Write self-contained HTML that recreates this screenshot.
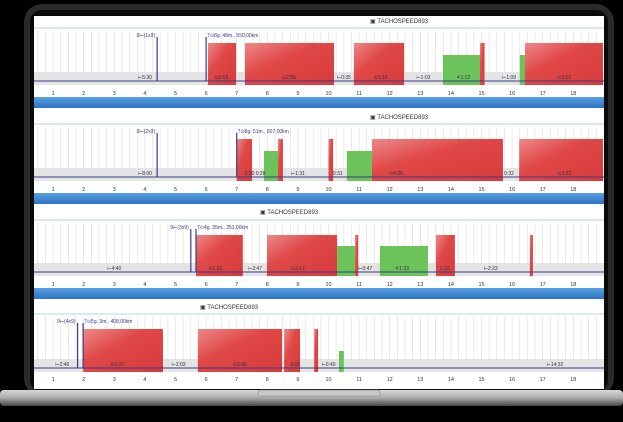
<!DOCTYPE html>
<html><head><meta charset="utf-8"><style>
html,body{margin:0;padding:0;background:#000;width:623px;height:422px;overflow:hidden}
svg{display:block}
text{font-family:"Liberation Sans",sans-serif}
</style></head><body>
<svg id="s" width="623" height="422" viewBox="0 0 623 422">
<defs>
<linearGradient id="silver" x1="0" y1="0" x2="0" y2="1"><stop offset="0" stop-color="#d8d8d8"/><stop offset="0.5" stop-color="#a9a9a9"/><stop offset="1" stop-color="#444"/></linearGradient>
<linearGradient id="red" x1="0" y1="0" x2="1" y2="1"><stop offset="0" stop-color="#e88"/><stop offset="0.4" stop-color="#e04848"/><stop offset="1" stop-color="#d83a3a"/></linearGradient>
<linearGradient id="blue" x1="0" y1="0" x2="0" y2="1"><stop offset="0" stop-color="#5aa0e0"/><stop offset="1" stop-color="#2b74c4"/></linearGradient>
</defs>
<rect x="24" y="4" width="590" height="392" rx="18" fill="#2a2a2a"/>
<rect x="30" y="10" width="578" height="382" rx="12" fill="#0a0a0a"/>
<rect x="34" y="16" width="570" height="373" fill="#fff"/>
<g id="charts"></g>
<rect x="0" y="390" width="623" height="16" rx="4" fill="url(#silver)"/>
<rect x="258" y="390" width="122" height="6" rx="2" fill="#c8c8c8" stroke="#888" stroke-width="0.5"/>
</svg>
<script>
const hours=[1,2,3,4,5,6,7,8,9,10,11,12,13,14,15,16,17,18];
// panel bars: [start hour, end hour, type]
const p1Bars=[[6.06,6.98,'r'],[7.27,10.18,'r'],[10.83,12.47,'r'],[13.74,14.95,'g'],[14.95,15.1,'r'],[16.25,16.42,'g'],[16.42,18.97,'r']];
const p2Bars=[[7.0,7.5,'r'],[7.89,8.35,'g'],[8.35,8.51,'r'],[10.0,10.15,'r'],[10.6,11.42,'g'],[11.42,15.7,'r'],[16.23,18.97,'r']];
const p3Bars=[[5.67,7.2,'r'],[7.99,10.28,'r'],[10.28,10.87,'g'],[10.87,10.97,'r'],[11.68,13.25,'g'],[13.51,14.13,'r'],[16.58,16.68,'r']];
const p4Bars=[[1.98,4.59,'r'],[5.73,8.48,'r'],[8.55,9.07,'r'],[9.53,9.66,'r'],[10.34,10.5,'g']];
const p1Labels=[[4.0,'⊢5:30'],[6.5,'⊙0:55'],[8.7,'⊙2:56'],[10.5,'⊢0:35'],[11.7,'⊙1:10'],[13.1,'⊢1:03'],[14.4,'⚘1:12'],[15.9,'⊢1:09'],[17.7,'⊙3:03']];
const p2Labels=[[4.0,'⊢8:00'],[7.6,'0:20 0:28'],[9.0,'⊢1:31'],[10.3,'0:31'],[12.2,'⊙4:38'],[15.9,'0:32'],[17.7,'⊙3:33']];
const p3Labels=[[3.0,'⊢4:40'],[6.3,'⊙1:32'],[7.6,'⊢2:47'],[9.0,'⊙2:17'],[11.2,'⊢0:47'],[12.4,'⚘1:23'],[13.8,'2:33'],[15.3,'⊢2:23']];
const p4Labels=[[1.3,'⊢2:46'],[3.1,'⊙2:37'],[5.1,'⊢2:03'],[7.1,'⊙2:45'],[8.9,'3:33'],[10.0,'⊢0:40'],[17.4,'⊢14:32']];
const panels=[
 {bars:p1Bars,labels:p1Labels,title:21,top:43,base:85,axis:93,blue:97,gt:55,mark:[4.4,6.0],markText:['9⊢(1x9)','7⊙8g. 48m., 550,00km']},
 {bars:p2Bars,labels:p2Labels,title:117,top:139,base:181,axis:189,blue:193,gt:151,mark:[4.4,7.0],markText:['9⊢(2x9)','7⊙8g. 51m., 607,00km']},
 {bars:p3Bars,labels:p3Labels,title:212,top:235,base:276,axis:284,blue:288,gt:246,mark:[5.5,5.67],markText:['9⊢(3x9)','7⊙4g. 35m., 253,00km']},
 {bars:p4Bars,labels:p4Labels,title:307,top:329,base:372,axis:379,blue:null,gt:351,mark:[1.8,1.98],markText:['9⊢(4x9)','7⊙5g. 3m., 408,00km']}
];
const titleX=[370,370,260,200];
const NS='http://www.w3.org/2000/svg';
const g=document.getElementById('charts');
function x(h){return 22.5+30.6*h;}
function mk(tag,at,parent){const e=document.createElementNS(NS,tag);for(const k in at)e.setAttribute(k,at[k]);(parent||g).appendChild(e);return e;}
panels.forEach((p,i)=>{
 const pg=mk('g',{});
 
 
 mk('line',{x1:34,x2:604,y1:p.top-15,y2:p.top-15,stroke:'#9cc8d8','stroke-width':0.8},pg);
 const t=mk('text',{x:titleX[i],y:p.title+2,'font-size':6,fill:'#333'},pg);
 t.textContent='▣ TACHOSPEED893';
 
 
 for(let h=0.5;h<19;h+=0.25){mk('line',{x1:x(h),x2:x(h),y1:p.top-12,y2:p.base,stroke:'#ddd','stroke-width':0.6},pg);}
 mk('rect',{x:34,y:p.base-13,width:570,height:13,fill:'#e4e4e4'},pg);
 p.bars.forEach(b=>{
  const r=mk('rect',{x:x(b[0]),y:b[2]==='r'?p.top:p.gt,width:Math.max(1,x(b[1])-x(b[0])),height:p.base-(b[2]==='r'?p.top:p.gt),fill:b[2]==='r'?'url(#red)':'#6cc35a'},pg);
  
  
 });
 mk('line',{x1:34,x2:604,y1:p.base-4,y2:p.base-4,stroke:'#3a3a8c','stroke-width':1},pg);
 mk('line',{x1:x(p.mark[0]),x2:x(p.mark[0]),y1:p.top-6,y2:p.base-4,stroke:'#3a3a8c','stroke-width':1.2},pg);
 mk('line',{x1:x(p.mark[1]),x2:x(p.mark[1]),y1:p.top-6,y2:p.base-4,stroke:'#3a3a8c','stroke-width':1.2},pg);
 let mt=mk('text',{x:x(p.mark[0])-2,y:p.top-6,'font-size':5,fill:'#3a3a8c','text-anchor':'end'},pg);mt.textContent=p.markText[0];
 mt=mk('text',{x:x(p.mark[1])+1,y:p.top-6,'font-size':5,fill:'#3a3a8c'},pg);mt.textContent=p.markText[1];
 p.labels.forEach(l=>{const e=mk('text',{x:x(l[0]),y:p.base-6,'font-size':5,fill:'#333','text-anchor':'middle'},pg);e.textContent=l[1];});
 hours.forEach(h=>{
  const e=mk('text',{x:x(h),y:p.axis+2,'font-size':5.5,fill:'#333','text-anchor':'middle'},pg);
  e.textContent=h;
  
  
 });
 if(p.blue!==null){
  const bl=mk('rect',{x:34,y:p.blue,width:570,height:11,fill:'url(#blue)'},pg);
  
  
 }
});
</script>
</body></html>
